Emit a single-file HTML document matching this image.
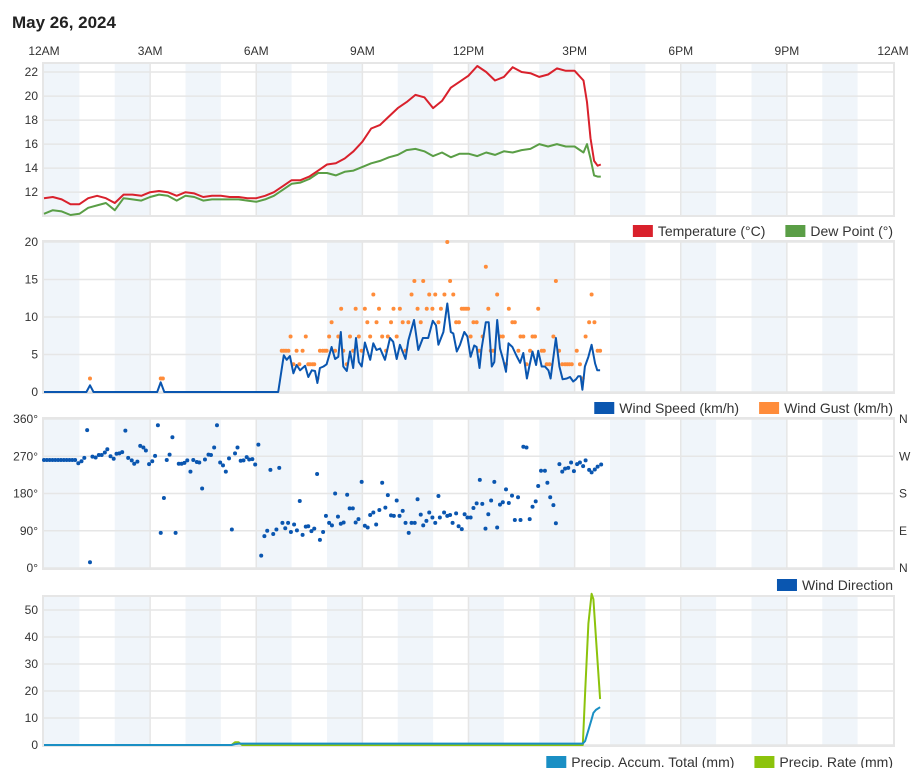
<!DOCTYPE html>
<html><head><meta charset="utf-8">
<style>
html,body{margin:0;padding:0;background:#fff;}
body{width:920px;height:768px;overflow:hidden;font-family:"Liberation Sans",Arial,sans-serif;}
svg text{font-family:"Liberation Sans",Arial,sans-serif;}
</style></head>
<body>
<svg id="chart" width="920" height="768" viewBox="0 0 920 768" xmlns="http://www.w3.org/2000/svg">
<text x="12" y="28" font-size="17" font-weight="bold" fill="#222">May 26, 2024</text>
</svg>
<script>
// ---------- DATA ----------
const xTickLabels = ["12AM","3AM","6AM","9AM","12PM","3PM","6PM","9PM","12AM"];
const tempTimes = [0,0.25,0.5,0.75,1,1.25,1.5,1.75,2,2.25,2.5,2.75,3,3.25,3.5,3.75,4,4.25,4.5,4.75,5,5.25,5.5,5.75,6,6.25,6.5,6.75,7,7.25,7.5,7.75,8,8.25,8.5,8.75,9,9.25,9.5,9.75,10,10.25,10.5,10.75,11,11.25,11.5,11.75,12,12.25,12.5,12.75,13,13.25,13.5,13.75,14,14.25,14.5,14.75,15,15.25,15.35,15.45,15.55,15.65,15.74];
const temperature = [11.5,11.6,11.4,11.0,11.0,11.5,11.7,11.5,11.1,11.8,11.8,11.7,12.0,12.1,12.0,11.7,12.0,11.9,11.6,11.7,11.7,11.6,11.6,11.5,11.5,11.7,12.0,12.5,13.0,13.0,13.3,13.8,14.3,14.4,14.8,15.4,16.2,17.3,17.6,18.3,19.0,19.5,20.1,19.9,19.0,19.6,20.7,21.2,21.7,22.5,22.0,21.3,21.6,22.4,22.0,21.9,21.6,21.8,22.3,22.1,22.1,21.3,19.5,16.5,14.6,14.2,14.3];
const dewPoint = [10.2,10.5,10.4,10.1,10.2,10.7,10.9,11.1,10.5,11.5,11.4,11.3,11.6,11.8,11.7,11.3,11.7,11.6,11.3,11.4,11.4,11.4,11.4,11.3,11.2,11.4,11.7,12.2,12.7,12.8,13.1,13.6,13.6,13.4,13.7,13.8,14.1,14.4,14.6,14.9,15.1,15.5,15.6,15.4,15.0,15.3,14.9,15.2,15.2,15.0,15.3,15.1,15.4,15.3,15.5,15.6,16.0,15.8,16.0,15.8,15.8,15.3,16.0,14.8,13.4,13.3,13.3];

const speedTimes = [0,1.2,1.3,1.4,3.2,3.3,3.4,6.62,6.78,6.86,6.95,7.05,7.14,7.24,7.38,7.47,7.57,7.66,7.73,7.80,7.90,7.99,8.13,8.23,8.32,8.39,8.46,8.56,8.65,8.74,8.82,8.90,8.98,9.07,9.22,9.31,9.40,9.50,9.64,9.78,9.87,9.97,10.06,10.22,10.30,10.46,10.58,10.71,10.86,10.99,11.08,11.15,11.29,11.40,11.50,11.57,11.67,11.76,11.88,11.97,12.06,12.16,12.23,12.31,12.37,12.49,12.57,12.66,12.73,12.81,12.89,12.98,13.06,13.13,13.24,13.36,13.46,13.55,13.65,13.72,13.81,13.91,13.97,14.07,14.16,14.26,14.32,14.47,14.57,14.66,14.78,14.87,14.96,15.04,15.10,15.17,15.22,15.29,15.39,15.48,15.58,15.64,15.72];
const windSpeed = [0,0,0.9,0,0,1.3,0,0,4.9,4.3,4.8,2.5,3.6,2.9,3.5,2.0,2.9,2.8,1.2,3.2,3.4,3.7,6.0,4.4,4.7,8.0,3.4,2.8,5.4,3.2,7.2,4.0,3.4,6.6,4.3,6.5,5.6,5.8,4.3,7.2,6.7,4.4,6.3,4.4,6.9,9.6,5.6,7.2,7.2,9.5,8.9,6.3,8.0,11.8,8.0,7.8,5.4,6.3,8.0,7.4,4.7,6.2,6.0,3.2,5.8,9.3,9.3,3.4,4.0,9.6,5.8,4.3,2.7,6.5,6.0,4.8,3.9,5.2,1.8,3.4,5.4,3.6,5.5,3.4,3.4,2.9,1.8,7.2,3.4,1.7,1.8,2.0,1.4,1.7,2.1,2.1,0.3,3.4,4.7,6.3,3.8,2.9,2.9];

const gustTimes = [1.3,3.3,3.36,6.72,6.78,6.84,6.91,6.97,7.05,7.14,7.22,7.31,7.40,7.47,7.52,7.59,7.64,7.73,7.80,7.88,7.94,7.99,8.06,8.13,8.23,8.32,8.40,8.46,8.56,8.65,8.74,8.81,8.90,8.98,9.07,9.14,9.22,9.31,9.40,9.47,9.56,9.67,9.72,9.81,9.88,9.97,10.06,10.14,10.22,10.30,10.39,10.47,10.56,10.65,10.72,10.82,10.89,10.98,11.06,11.15,11.22,11.32,11.40,11.48,11.57,11.65,11.73,11.81,11.87,11.93,11.99,12.06,12.14,12.23,12.30,12.40,12.49,12.56,12.63,12.70,12.81,12.89,12.97,13.06,13.14,13.24,13.31,13.41,13.47,13.55,13.64,13.74,13.81,13.88,13.97,14.07,14.13,14.21,14.29,14.40,14.47,14.56,14.65,14.73,14.79,14.85,14.92,15.06,15.15,15.23,15.31,15.41,15.48,15.56,15.65,15.72];
const windGust = [1.8,1.8,1.8,5.5,5.5,5.5,5.5,7.4,3.7,5.5,3.7,5.5,7.4,3.7,3.7,3.7,3.7,1.8,5.5,5.5,5.5,5.5,7.4,9.3,5.5,7.4,11.1,5.5,3.7,7.4,5.5,11.1,7.4,5.5,11.1,9.3,7.4,13.0,9.3,11.1,7.4,5.5,7.4,9.3,11.1,7.4,11.1,9.3,5.5,9.3,13.0,14.8,11.1,9.3,14.8,11.1,13.0,11.1,13.0,9.3,11.1,13.0,20.0,14.8,13.0,9.3,9.3,11.1,11.1,11.1,11.1,7.4,9.3,9.3,5.5,7.4,16.7,11.1,5.5,5.5,13.0,7.4,7.4,3.7,11.1,9.3,9.3,5.5,7.4,7.4,3.7,5.5,7.4,7.4,11.1,5.5,5.5,3.7,3.7,7.4,14.8,5.5,3.7,3.7,3.7,3.7,3.7,5.5,3.7,1.8,7.4,9.3,13.0,9.3,5.5,5.5];

const dirTimes = [0,0.08,0.16,0.24,0.32,0.4,0.48,0.56,0.64,0.72,0.8,0.88,0.97,1.06,1.14,1.22,1.30,1.37,1.46,1.55,1.63,1.72,1.79,1.88,1.97,2.05,2.13,2.21,2.30,2.38,2.48,2.55,2.64,2.72,2.81,2.88,2.97,3.06,3.14,3.22,3.30,3.39,3.47,3.55,3.63,3.72,3.81,3.89,3.97,4.05,4.14,4.22,4.32,4.39,4.47,4.55,4.65,4.72,4.81,4.89,4.98,5.06,5.14,5.23,5.31,5.40,5.47,5.56,5.64,5.73,5.80,5.89,5.97,6.06,6.14,6.23,6.31,6.40,6.48,6.57,6.65,6.74,6.82,6.90,6.98,7.07,7.15,7.23,7.31,7.40,7.47,7.56,7.64,7.72,7.80,7.89,7.97,8.06,8.14,8.23,8.31,8.39,8.47,8.57,8.64,8.73,8.81,8.89,8.98,9.07,9.15,9.22,9.31,9.39,9.48,9.56,9.65,9.72,9.81,9.89,9.97,10.05,10.14,10.22,10.31,10.39,10.48,10.56,10.65,10.72,10.81,10.89,10.98,11.06,11.15,11.19,11.31,11.40,11.48,11.55,11.65,11.72,11.81,11.89,11.97,12.06,12.14,12.23,12.32,12.39,12.48,12.56,12.64,12.73,12.81,12.89,12.97,13.06,13.14,13.23,13.31,13.40,13.47,13.55,13.64,13.73,13.81,13.90,13.97,14.05,14.16,14.23,14.31,14.40,14.47,14.57,14.65,14.73,14.82,14.90,14.98,15.07,15.15,15.24,15.31,15.41,15.48,15.57,15.65,15.75];
const windDir = [261,261,261,261,261,261,261,261,261,261,261,261,253,258,266,333,14,269,267,273,273,279,287,270,264,276,277,280,332,266,260,252,257,295,291,284,251,258,271,345,85,169,261,274,316,85,252,252,254,260,233,261,256,255,192,262,274,273,291,345,255,248,233,265,93,277,291,259,260,268,262,263,250,298,30,77,90,237,82,93,242,109,96,109,87,105,91,162,80,100,101,89,95,227,68,87,126,109,103,180,124,107,110,177,144,144,110,118,208,102,98,128,134,105,140,206,146,176,127,126,163,126,138,109,85,109,109,166,129,103,114,134,122,109,174,122,134,126,128,109,132,101,94,130,122,122,145,156,213,155,95,130,163,208,98,153,159,190,157,175,116,171,116,293,291,118,148,161,198,235,235,206,171,152,108,251,233,240,242,255,234,251,255,246,260,237,231,238,245,250];

const precipTimes = [0,5.3,5.4,5.5,5.6,15.23,15.3,15.39,15.48,15.53,15.6,15.72];
const precipAccum = [0,0,0.3,0.5,0.5,0.5,1.5,5.5,9.5,11.9,13.0,14.0];
const precipRate  = [0,0,1,1,0,0,20,45,56,54,40,17];

// ---------- LAYOUT ----------
const NS="http://www.w3.org/2000/svg";
const svg=document.getElementById('chart');
const X0=44, X1=893;
function xs(h){return X0+(X1-X0)*h/24;}
function mk(tag,attrs,parent){const e=document.createElementNS(NS,tag);for(const k in attrs)e.setAttribute(k,attrs[k]);(parent||svg).appendChild(e);return e;}

xTickLabels.forEach((t,i)=>{
  const e=mk('text',{x:xs(i*3),y:55,'font-size':12,'text-anchor':'middle',fill:'#333'});
  
  
  e.textContent=t;
});

function panel(name,top,bottom,vmin,vmax,ticks,tickFmt,rightLabels){
  const g=mk('g',{});
  
  
  const ys=v=>bottom-(bottom-top)*(v-vmin)/(vmax-vmin);
  mk('rect',{x:X0,y:top,width:X1-X0,height:bottom-top,fill:'#fff'},g);
  for(let h=0;h<24;h+=2){
    const r=mk('rect',{x:xs(h),y:top,width:xs(1)-xs(0),height:bottom-top,fill:'#f0f5fa'},g);
    
    
  }
  for(let h=3;h<24;h+=3) mk('line',{x1:xs(h),x2:xs(h),y1:top,y2:bottom,stroke:'#e6e6e6','stroke-width':1.5},g);
  ticks.forEach((v,i)=>{
    const y=ys(v);
    mk('line',{x1:X0,x2:X1,y1:y,y2:y,stroke:'#e6e6e6','stroke-width':1.5},g);
    const t=mk('text',{x:38,y:y+4,'font-size':12,'text-anchor':'end',fill:'#333'},g);
    
    
    t.textContent=tickFmt(v);
    if(rightLabels){
      const r=mk('text',{x:899,y:y+4,'font-size':12,fill:'#333'},g);
      
      
      r.textContent=rightLabels[i];
    }
  });
  mk('rect',{x:X0-1,y:top-1,width:X1-X0+2,height:bottom-top+2,fill:'none',stroke:'#e6e6e6','stroke-width':2},g);
  return {g,ys};
}
function line(p,times,vals,color,name,w){
  const d=times.map((t,i)=>(i?'L':'M')+xs(t).toFixed(1)+','+p.ys(vals[i]).toFixed(1)).join('');
  const e=mk('path',{d:d,fill:'none',stroke:color,'stroke-width':w||2,'stroke-linejoin':'round'},p.g);
  
  
}
function dots(p,times,vals,color,name){
  times.forEach((t,i)=>{
    const c=mk('circle',{cx:xs(t),cy:p.ys(vals[i]),r:2,fill:color},p.g);
    
    
  });
}
function legend(y,items){
  let x=893;
  for(let i=items.length-1;i>=0;i--){
    const [label,color,name]=items[i];
    const t=mk('text',{x:0,y:y+5,'font-size':14,fill:'#333'});
    
    
    t.textContent=label;
    const w=t.getComputedTextLength();
    x-=w;
    t.setAttribute('x',x);
    x-=5+20;
    const r=mk('rect',{x:x,y:y-6,width:20,height:12,fill:color});
    
    
    x-=20;
  }
}

const p1=panel('temperature',64,215,10.1,22.67,[12,14,16,18,20,22],v=>String(v));
line(p1,tempTimes,dewPoint,'#5a9e46','dew-point-line');
line(p1,tempTimes,temperature,'#d9212c','temperature-line');
legend(231,[['Temperature (°C)','#d9212c','legend-temperature'],['Dew Point (°)','#5a9e46','legend-dew-point']]);

const p2=panel('wind',242,392,0,20,[0,5,10,15,20],v=>String(v));
dots(p2,gustTimes,windGust,'#ff8c3a','wind-gust-dot');
line(p2,speedTimes,windSpeed,'#0a56b0','wind-speed-line');
legend(408,[['Wind Speed (km/h)','#0a56b0','legend-wind-speed'],['Wind Gust (km/h)','#ff8c3a','legend-wind-gust']]);

const p3=panel('wind-direction',419,568,0,360,[0,90,180,270,360],v=>v+'°',['N','E','S','W','N']);
dots(p3,dirTimes,windDir,'#0a56b0','wind-direction-dot');
legend(585,[['Wind Direction','#0a56b0','legend-wind-direction']]);

const p4=panel('precipitation',597,745,0,54.8,[0,10,20,30,40,50],v=>String(v));
line(p4,precipTimes,precipRate,'#8cc30c','precip-rate-line');
line(p4,precipTimes,precipAccum,'#1a8fc4','precip-accum-line');
legend(762,[['Precip. Accum. Total (mm)','#1a8fc4','legend-precip-accum'],['Precip. Rate (mm)','#8cc30c','legend-precip-rate']]);
</script>
</body></html>
